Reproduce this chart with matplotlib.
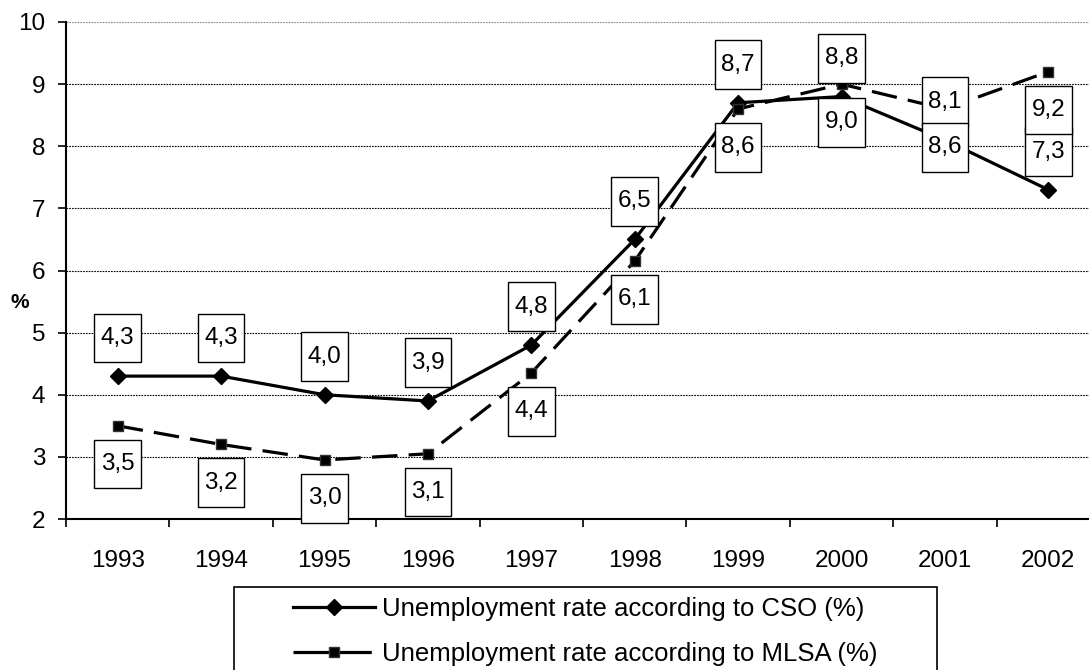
import matplotlib
matplotlib.use("Agg")
import matplotlib.pyplot as plt
from matplotlib.path import Path
from matplotlib.patches import Rectangle
from matplotlib.lines import Line2D

plt.rcParams['font.family'] = ['Liberation Sans', 'DejaVu Sans']

years = ['1993', '1994', '1995', '1996', '1997', '1998', '1999', '2000', '2001', '2002']
cso = [4.3, 4.3, 4.0, 3.9, 4.8, 6.5, 8.7, 8.8, 8.1, 7.3]
mlsa = [3.5, 3.2, 2.95, 3.05, 4.35, 6.15, 8.6, 9.0, 8.6, 9.2]
cso_labels = ['4,3', '4,3', '4,0', '3,9', '4,8', '6,5', '8,7', '8,8', '8,1', '7,3']
mlsa_labels = ['3,5', '3,2', '3,0', '3,1', '4,4', '6,1', '8,6', '9,0', '8,6', '9,2']
y_ticks = [2, 3, 4, 5, 6, 7, 8, 9, 10]
legend_labels = ['Unemployment rate according to CSO (%)',
                 'Unemployment rate according to MLSA (%)']

W, H = 1089, 670
fig = plt.figure(figsize=(W / 100, H / 100), dpi=100)
ax = fig.add_axes([66 / W, (H - 519) / H, 1034 / W, 497 / H])

FS = 17.5
x = list(range(len(years)))

# gridlines
for v in y_ticks[1:]:
    ax.axhline(v, color='#888888' if v == 10 else 'black', lw=0.8,
               linestyle=(0, (1.5, 1.0)), zorder=1)

ax.plot(x, cso, color='black', lw=2.3, marker='D', ms=8.5, mfc='black',
        mec='black', zorder=3)
ax.plot(x, mlsa, color='black', lw=2.3, dashes=(8, 3.5), marker='s', ms=7,
        mfc='black', mec='#333333', zorder=3)


def boxfn(x0, y0, width, height, mutation_size):
    padx = 0.27 * mutation_size
    pady = 0.55 * mutation_size
    xa, xb = x0 - padx, x0 + width + padx
    ya, yb = y0 - pady, y0 + height + pady
    return Path([(xa, ya), (xb, ya), (xb, yb), (xa, yb), (xa, ya)],
                [Path.MOVETO, Path.LINETO, Path.LINETO, Path.LINETO, Path.CLOSEPOLY])


OFF = 27.5
for xi, v, lab in zip(x, cso, cso_labels):
    ax.annotate(lab, (xi, v), xytext=(0, OFF), textcoords='offset points',
                ha='center', va='center', fontsize=FS, zorder=5,
                annotation_clip=False,
                bbox=dict(boxstyle=boxfn, fc='white', ec='black', lw=1.0))
for xi, v, lab in zip(x, mlsa, mlsa_labels):
    ax.annotate(lab, (xi, v), xytext=(0, -OFF), textcoords='offset points',
                ha='center', va='center', fontsize=FS, zorder=5,
                annotation_clip=False,
                bbox=dict(boxstyle=boxfn, fc='white', ec='black', lw=1.0))

ax.set_xlim(-0.5, len(years) - 0.5)
ax.set_ylim(2, 10)
ax.set_yticks(y_ticks)
ax.set_yticklabels([str(v) for v in y_ticks], fontsize=FS)
ax.tick_params(axis='y', direction='out', length=6, width=1.2, pad=9)

ax.set_xticks([i - 0.5 for i in range(len(years) + 1)])
ax.set_xticklabels([])
ax.set_xticks(x, minor=True)
ax.set_xticklabels(years, minor=True, fontsize=FS)
ax.tick_params(axis='x', which='major', direction='out', length=6, width=1.2)
ax.tick_params(axis='x', which='minor', length=0, pad=22.5)

for s in ['top', 'right']:
    ax.spines[s].set_visible(False)
for s in ['left', 'bottom']:
    ax.spines[s].set_linewidth(1.5)
    ax.spines[s].set_zorder(4)

fig.text(20 / W, 1 - 302 / H, '%', fontsize=15, fontweight='bold',
         ha='center', va='center')

# legend frame
fig.patches.append(Rectangle((234 / W, 1 - 690 / H), (937 - 234) / W, (690 - 587) / H,
                             transform=fig.transFigure, fill=False, ec='black', lw=1.2))
handles = [Line2D([], [], color='black', lw=2.3, marker='D', ms=8.5),
           Line2D([], [], color='black', lw=2.3, dashes=(11.5, 1.5), marker='s', ms=7,
                  mec='#333333')]
fig.legend(handles, legend_labels, loc='upper left',
           bbox_to_anchor=(293 / W, 1 - 597 / H), bbox_transform=fig.transFigure,
           frameon=False, fontsize=18.5, borderpad=0, borderaxespad=0,
           handlelength=3.2, handletextpad=0.25, labelspacing=0.82)

fig.savefig('out.png', dpi=100)
